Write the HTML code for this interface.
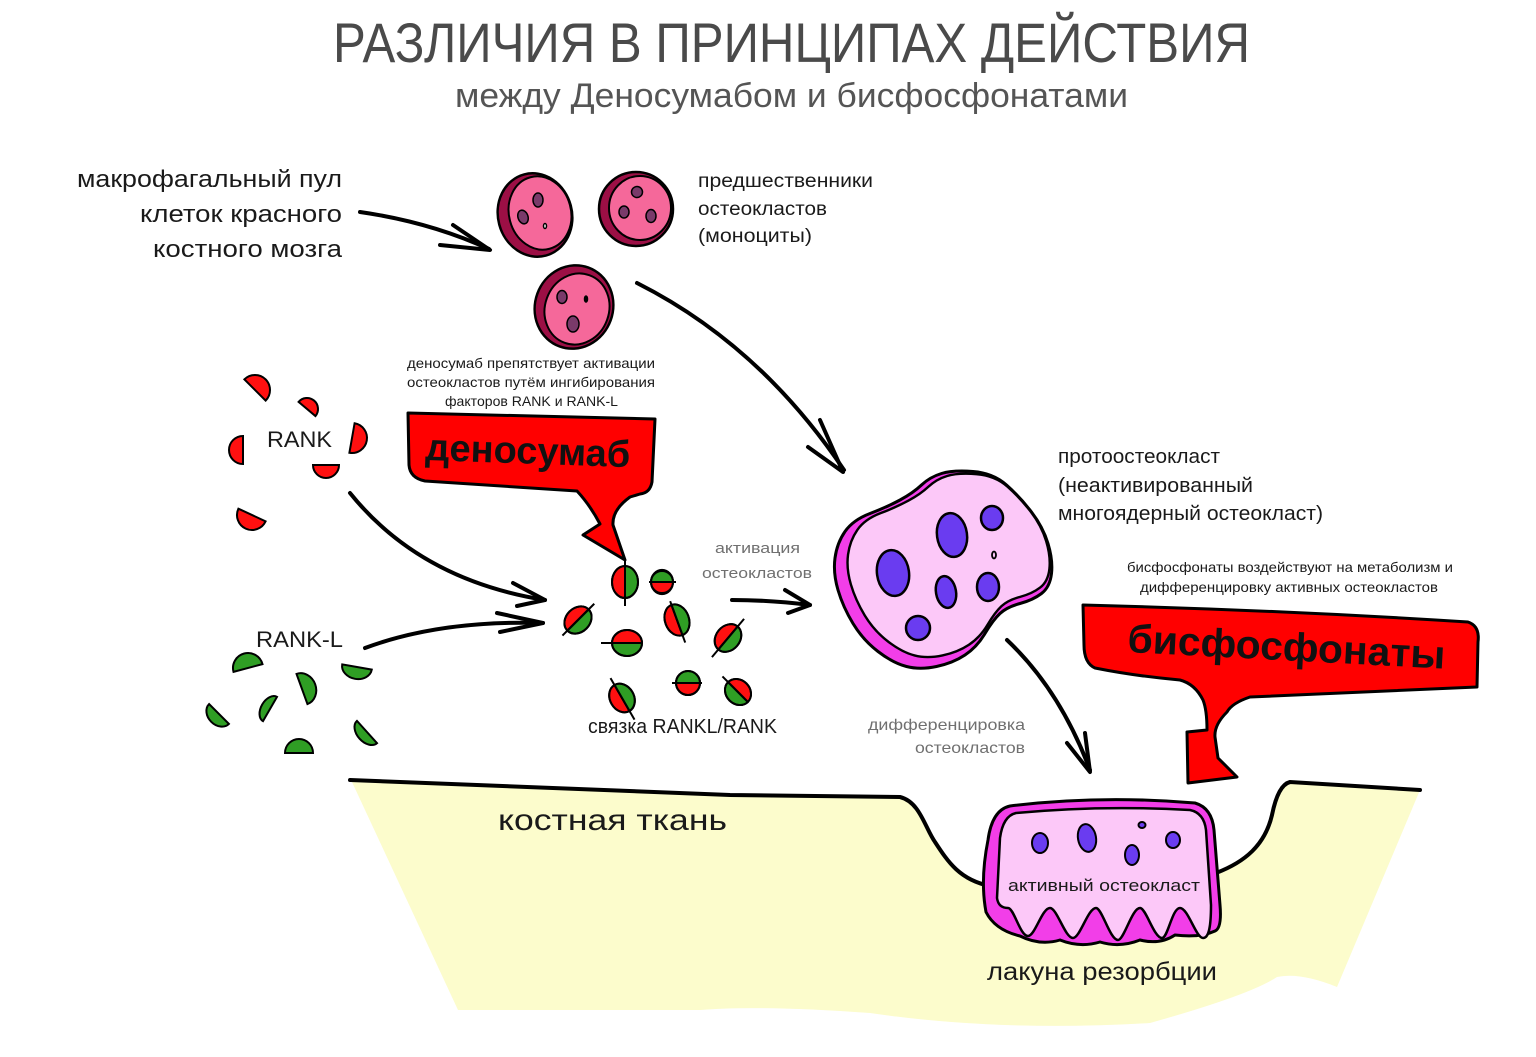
<!DOCTYPE html>
<html><head><meta charset="utf-8"><style>
html,body{margin:0;padding:0;background:#fff;}
svg{display:block;}
text{font-family:"Liberation Sans","DejaVu Sans",sans-serif;}
</style></head><body>
<svg width="1536" height="1057" viewBox="0 0 1536 1057" xmlns="http://www.w3.org/2000/svg">
<rect width="1536" height="1057" fill="#fff"/>

<!-- Title -->
<text x="333" y="62" font-size="56" fill="#4a4a4a" textLength="917" lengthAdjust="spacingAndGlyphs">РАЗЛИЧИЯ В ПРИНЦИПАХ ДЕЙСТВИЯ</text>
<text x="455" y="107" font-size="34" fill="#555" textLength="673" lengthAdjust="spacingAndGlyphs">между Деносумабом и бисфосфонатами</text>

<!-- Bone tissue -->
<path d="M352,782 L730,795 L900,797 C920,802 925,828 935,842 C948,862 960,880 987,885 L1218,873 C1245,862 1265,845 1272,815 Q1278,785 1290,782 L1420,790 L1337,987 Q1300,972 1277,977 Q1250,995 1150,1023 Q1000,1032 870,1013 Q760,1005 700,1010 L458,1010 Z" fill="#fcfccc"/>
<path d="M350,780 L730,795 L900,797 C920,802 925,828 935,842 C948,862 960,880 990,886" fill="none" stroke="#000" stroke-width="4" stroke-linecap="round"/>
<path d="M1216,873 C1245,862 1265,845 1272,815 Q1278,785 1290,782 L1420,790" fill="none" stroke="#000" stroke-width="4" stroke-linecap="round"/>

<!-- Monocytes -->
<g stroke="#000" stroke-width="2.5">
  <ellipse cx="535" cy="215" rx="37" ry="42" transform="rotate(-15 535 215)" fill="#9c0f45"/>
  <ellipse cx="540" cy="213" rx="31" ry="37" transform="rotate(-15 540 213)" fill="#f5689a" stroke-width="2"/>
  <ellipse cx="636" cy="209" rx="37" ry="37" fill="#9c0f45"/>
  <ellipse cx="640" cy="208" rx="31" ry="32" fill="#f5689a" stroke-width="2"/>
  <ellipse cx="574" cy="307" rx="39" ry="42" transform="rotate(20 574 307)" fill="#9c0f45"/>
  <ellipse cx="577" cy="309" rx="32" ry="36" transform="rotate(20 577 309)" fill="#f5689a" stroke-width="2"/>
</g>
<g fill="#7a3a6a" stroke="#000" stroke-width="1.5">
  <ellipse cx="538" cy="200" rx="5" ry="7"/>
  <ellipse cx="523" cy="217" rx="5" ry="7" transform="rotate(-20 523 217)"/>
  <ellipse cx="545" cy="226" rx="1.5" ry="2.5" fill="#fff"/>
  <ellipse cx="637" cy="192" rx="5.5" ry="5.5"/>
  <ellipse cx="624" cy="212" rx="5" ry="6"/>
  <ellipse cx="651" cy="216" rx="5" ry="6.5"/>
  <ellipse cx="562" cy="297" rx="5" ry="6.5"/>
  <ellipse cx="573" cy="324" rx="6" ry="8"/>
  <ellipse cx="586" cy="299" rx="1.5" ry="3" fill="#000"/>
</g>

<!-- Arrows -->
<g fill="none" stroke="#000" stroke-width="4" stroke-linecap="round" stroke-linejoin="round">
  <path d="M360,212 Q430,222 489,249"/>
  <path d="M453,225 L490,250 L440,245"/>
  <path d="M637,283 Q760,345 844,470"/>
  <path d="M820,420 L843,472 L808,447"/>
  <path d="M350,493 Q420,580 545,600"/>
  <path d="M513,583 L545,600 L517,606"/>
  <path d="M365,648 Q440,620 543,623"/>
  <path d="M497,613 L543,623 L500,632"/>
  <path d="M732,600 Q770,600 810,605"/>
  <path d="M785,590 L810,605 L788,613"/>
  <path d="M1007,640 Q1060,690 1090,770"/>
  <path d="M1067,743 L1090,772 L1085,733"/>
</g>

<!-- RANK (red half-discs) -->
<g fill="#ff1010" stroke="#000" stroke-width="2">
  <path d="M-15,0 A15,15 0 0 1 15,0 Z" transform="translate(255,390) rotate(45)"/>
  <path d="M-11,0 A11,11 0 0 1 11,0 Z" transform="translate(307,409) rotate(40)"/>
  <path d="M-14,0 A14,14 0 0 1 14,0 Z" transform="translate(243,450) rotate(-90)"/>
  <path d="M-15,0 A15,15 0 0 1 15,0 Z" transform="translate(352,438) rotate(100)"/>
  <path d="M-13,0 A13,13 0 0 1 13,0 Z" transform="translate(326,465) rotate(180)"/>
  <path d="M-15,0 A15,15 0 0 1 15,0 Z" transform="translate(252,515) rotate(205)"/>
</g>
<!-- RANK-L (green half-discs) -->
<g fill="#2f9e24" stroke="#000" stroke-width="2">
  <path d="M-15,0 A15,15 0 0 1 15,0 Z" transform="translate(248,668) rotate(-15)"/>
  <path d="M-15,0 A15,12 0 0 1 15,0 Z" transform="translate(357,667) rotate(190)"/>
  <path d="M-16,0 A16,14 0 0 1 16,0 Z" transform="translate(302,689) rotate(70)"/>
  <path d="M-14,0 A14,9 0 0 1 14,0 Z" transform="translate(270,709) rotate(-60)"/>
  <path d="M-14,0 A14,11 0 0 1 14,0 Z" transform="translate(219,714) rotate(225)"/>
  <path d="M-15,0 A15,10 0 0 1 15,0 Z" transform="translate(367,732) rotate(228)"/>
  <path d="M-14,0 A14,14 0 0 1 14,0 Z" transform="translate(299,753) rotate(0)"/>
</g>

<!-- RANKL/RANK complexes -->
<g stroke="#000" stroke-width="2">
  <g transform="translate(625,582) rotate(0)"><path d="M0,-16 A13,16 0 0 0 0,16 Z" fill="#ff1010"/><path d="M0,-16 A13,16 0 0 1 0,16 Z" fill="#2f9e24"/><ellipse rx="13" ry="16" fill="none"/><path d="M0,-24 L0,24"/></g>
  <g transform="translate(662,582) rotate(90)"><path d="M0,-11 A11,10 0 0 0 0,11 Z" fill="#2f9e24"/><path d="M0,-11 A11,10 0 0 1 0,11 Z" fill="#ff1010"/><ellipse rx="11" ry="11" fill="none"/><path d="M0,-13 L0,14" transform="scale(1,-1)"/></g>
  <g transform="translate(578,620) rotate(45)"><path d="M0,-15 A12,15 0 0 0 0,15 Z" fill="#ff1010"/><path d="M0,-15 A12,15 0 0 1 0,15 Z" fill="#2f9e24"/><ellipse rx="12" ry="15" fill="none"/><path d="M0,-23 L0,22"/></g>
  <g transform="translate(677,620) rotate(-20)"><path d="M0,-16 A12,16 0 0 0 0,16 Z" fill="#ff1010"/><path d="M0,-16 A12,16 0 0 1 0,16 Z" fill="#2f9e24"/><ellipse rx="12" ry="16" fill="none"/><path d="M0,-20 L0,24"/></g>
  <g transform="translate(627,643) rotate(90)"><path d="M0,-15 A13,15 0 0 0 0,15 Z" fill="#ff1010"/><path d="M0,-15 A13,15 0 0 1 0,15 Z" fill="#2f9e24"/><ellipse rx="13" ry="15" fill="none"/><path d="M0,-15 L0,26"/></g>
  <g transform="translate(728,638) rotate(40)"><path d="M0,-15 A12,15 0 0 0 0,15 Z" fill="#ff1010"/><path d="M0,-15 A12,15 0 0 1 0,15 Z" fill="#2f9e24"/><ellipse rx="12" ry="15" fill="none"/><path d="M0,-25 L0,25"/></g>
  <g transform="translate(622,698) rotate(-30)"><path d="M0,-15 A12,15 0 0 0 0,15 Z" fill="#ff1010"/><path d="M0,-15 A12,15 0 0 1 0,15 Z" fill="#2f9e24"/><ellipse rx="12" ry="15" fill="none"/><path d="M0,-23 L0,25"/></g>
  <g transform="translate(688,683) rotate(90)"><path d="M0,-12 A12,12 0 0 0 0,12 Z" fill="#2f9e24"/><path d="M0,-12 A12,12 0 0 1 0,12 Z" fill="#ff1010"/><ellipse rx="12" ry="12" fill="none"/><path d="M0,-16 L0,14" transform="scale(1,-1)"/></g>
  <g transform="translate(738,692) rotate(-45)"><path d="M0,-14 A12,14 0 0 0 0,14 Z" fill="#2f9e24"/><path d="M0,-14 A12,14 0 0 1 0,14 Z" fill="#ff1010"/><ellipse rx="12" ry="14" fill="none"/><path d="M0,-22 L0,14"/></g>
</g>

<!-- Denosumab callout -->
<path d="M408,413 L655,419 L652,482 Q650,493 640,494 L630,497 Q612,510 613,525 L625,560 L583,535 L600,524 Q590,505 577,491 L425,481 Q410,478 409,465 Z" fill="#ff0000" stroke="#000" stroke-width="3" stroke-linejoin="round"/>
<text x="425" y="460" font-size="38" font-weight="bold" fill="#111" textLength="205" lengthAdjust="spacingAndGlyphs" transform="rotate(2 425 460)">деносумаб</text>

<!-- Bisphosphonates callout -->
<path d="M1083,605 Q1280,610 1468,622 Q1480,626 1478,642 L1477,687 L1250,697 Q1232,703 1227,712 Q1214,725 1215,737 L1218,758 L1237,777 L1188,783 L1187,732 L1207,730 Q1207,710 1203,700 Q1195,684 1180,680 Q1135,676 1095,668 Q1084,663 1084,645 Z" fill="#ff0000" stroke="#000" stroke-width="3" stroke-linejoin="round"/>
<text x="1127" y="652" font-size="40" font-weight="bold" fill="#111" textLength="318" lengthAdjust="spacingAndGlyphs" transform="rotate(3 1127 652)">бисфосфонаты</text>

<!-- Protoosteoclast -->
<path d="M973,471.5 Q993,473 1006.5,485 Q1020,497 1031.5,512 Q1043,527 1048,543.5 Q1053,560 1051.5,573.5 Q1050,587 1041.5,593.5 Q1033,600 1020,603.5 Q1007,607 1000,613.5 Q993,620 985,633.5 Q977,647 965,655 Q953,663 936.5,666.5 Q920,670 906.5,666.5 Q893,663 878,651.5 Q863,640 853,623.5 Q843,607 838,590 Q833,573 835,558 Q837,543 845,531.5 Q853,520 870,513.5 Q887,507 900,500 Q913,493 921.5,485 Q930,477 941.5,473.5 Q953,470 973,471.5 Z" fill="#f23ee8" stroke="#000" stroke-width="3"/>
<path d="M973,471.5 Q993,473 1006.5,485 Q1020,497 1031.5,512 Q1043,527 1048,543.5 Q1053,560 1051.5,573.5 Q1050,587 1041.5,593.5 Q1033,600 1020,603.5 Q1007,607 1000,613.5 Q993,620 985,633.5 Q977,647 965,655 Q953,663 936.5,666.5 Q920,670 906.5,666.5 Q893,663 878,651.5 Q863,640 853,623.5 Q843,607 838,590 Q833,573 835,558 Q837,543 845,531.5 Q853,520 870,513.5 Q887,507 900,500 Q913,493 921.5,485 Q930,477 941.5,473.5 Q953,470 973,471.5 Z" fill="#fcc8f8" stroke="#000" stroke-width="2.6" transform="translate(955,562) scale(0.93) translate(-950,-566)"/>
<g fill="#6a3cf0" stroke="#000" stroke-width="2.5">
  <ellipse cx="952" cy="535" rx="15" ry="22" transform="rotate(-8 952 535)"/>
  <ellipse cx="992" cy="518" rx="11" ry="12"/>
  <ellipse cx="893" cy="573" rx="16" ry="23" transform="rotate(-8 893 573)"/>
  <ellipse cx="946" cy="592" rx="10" ry="16" transform="rotate(-10 946 592)"/>
  <ellipse cx="988" cy="587" rx="11" ry="14"/>
  <ellipse cx="918" cy="628" rx="12" ry="12"/>
  <ellipse cx="994" cy="555" rx="2" ry="3.5" fill="#fcc8f8" stroke-width="1.8"/>
</g>

<!-- Active osteoclast -->
<path d="M988,840 Q992,810 1010,806 Q1100,795 1195,803 Q1212,808 1214,830 L1220,905 Q1222,928 1215,931 Q1200,938 1175,935 Q1160,945 1140,940 Q1120,948 1100,942 Q1080,948 1060,940 Q1040,946 1020,936 Q995,930 986,912 Q980,880 988,840 Z" fill="#f23ee8" stroke="#000" stroke-width="3"/>
<path d="M1000,838 Q1003,816 1016,813 Q1100,805 1190,810 Q1204,813 1206,830 L1211,905 C1211,930 1208,938 1203,938 C1196,938 1188,908 1180,908 C1172,908 1168,938 1162,938 C1154,938 1146,908 1140,908 C1132,908 1124,940 1118,940 C1110,940 1102,908 1096,908 C1088,908 1080,938 1073,938 C1065,938 1057,908 1050,908 C1042,908 1035,936 1028,936 C1020,936 1014,908 1008,908 C1002,908 998,905 997,898 Z" fill="#fcc8f8" stroke="#000" stroke-width="2.5"/>
<g fill="#6a3cf0" stroke="#000" stroke-width="2">
  <ellipse cx="1040" cy="843" rx="8" ry="10"/>
  <ellipse cx="1087" cy="838" rx="9" ry="14" transform="rotate(-10 1087 838)"/>
  <ellipse cx="1132" cy="855" rx="7" ry="10"/>
  <ellipse cx="1173" cy="840" rx="7" ry="8"/>
  <ellipse cx="1142" cy="825" rx="3.5" ry="3"/>
</g>

<!-- Labels -->
<g fill="#1a1a1a">
  <text x="77" y="187" font-size="24" textLength="265" lengthAdjust="spacingAndGlyphs">макрофагальный пул</text>
  <text x="140" y="222" font-size="24" textLength="202" lengthAdjust="spacingAndGlyphs">клеток красного</text>
  <text x="153" y="257" font-size="24" textLength="189" lengthAdjust="spacingAndGlyphs">костного мозга</text>

  <text x="698" y="187" font-size="19" textLength="175" lengthAdjust="spacingAndGlyphs">предшественники</text>
  <text x="698" y="215" font-size="19" textLength="129" lengthAdjust="spacingAndGlyphs">остеокластов</text>
  <text x="698" y="242" font-size="19" textLength="114" lengthAdjust="spacingAndGlyphs">(моноциты)</text>

  <text x="407" y="368" font-size="14" textLength="248" lengthAdjust="spacingAndGlyphs">деносумаб препятствует активации</text>
  <text x="407" y="387" font-size="14" textLength="248" lengthAdjust="spacingAndGlyphs">остеокластов путём ингибирования</text>
  <text x="445" y="406" font-size="14" textLength="173" lengthAdjust="spacingAndGlyphs">факторов RANK и RANK-L</text>

  <text x="267" y="447" font-size="22" textLength="65" lengthAdjust="spacingAndGlyphs">RANK</text>
  <text x="256" y="647" font-size="22" textLength="87" lengthAdjust="spacingAndGlyphs">RANK-L</text>

  <text x="588" y="733" font-size="20" textLength="189" lengthAdjust="spacingAndGlyphs">связка RANKL/RANK</text>

  <text x="1058" y="463" font-size="20" textLength="162" lengthAdjust="spacingAndGlyphs">протоостеокласт</text>
  <text x="1058" y="492" font-size="20" textLength="195" lengthAdjust="spacingAndGlyphs">(неактивированный</text>
  <text x="1058" y="520" font-size="20" textLength="265" lengthAdjust="spacingAndGlyphs">многоядерный остеокласт)</text>

  <text x="1127" y="572" font-size="14" textLength="326" lengthAdjust="spacingAndGlyphs">бисфосфонаты воздействуют на метаболизм и</text>
  <text x="1140" y="592" font-size="14" textLength="298" lengthAdjust="spacingAndGlyphs">дифференцировку активных остеокластов</text>

  <text x="498" y="830" font-size="30" textLength="229" lengthAdjust="spacingAndGlyphs">костная ткань</text>
  <text x="1008" y="891" font-size="17" textLength="192" lengthAdjust="spacingAndGlyphs">активный остеокласт</text>
  <text x="987" y="980" font-size="25" textLength="230" lengthAdjust="spacingAndGlyphs">лакуна резорбции</text>
</g>
<g fill="#707070">
  <text x="715" y="553" font-size="15" textLength="85" lengthAdjust="spacingAndGlyphs">активация</text>
  <text x="702" y="578" font-size="15" textLength="110" lengthAdjust="spacingAndGlyphs">остеокластов</text>
  <text x="868" y="730" font-size="16" textLength="157" lengthAdjust="spacingAndGlyphs">дифференцировка</text>
  <text x="915" y="753" font-size="16" textLength="110" lengthAdjust="spacingAndGlyphs">остеокластов</text>
</g>
</svg>
</body></html>
